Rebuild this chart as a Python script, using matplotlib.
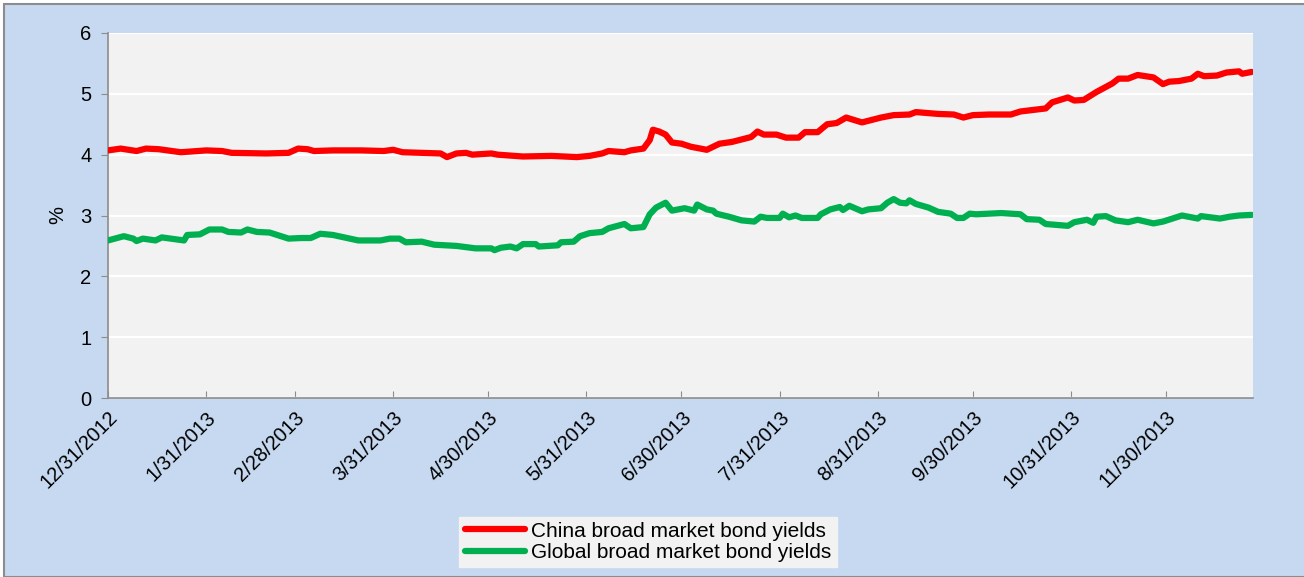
import matplotlib
matplotlib.use("Agg")
import matplotlib.pyplot as plt
from matplotlib.patches import Rectangle
import pandas as pd

plt.rcParams['font.family'] = ['Liberation Sans', 'DejaVu Sans']

china_dates = ["2012-12-31", "2013-01-04", "2013-01-09", "2013-01-12", "2013-01-16", "2013-01-23",
               "2013-01-31", "2013-02-05", "2013-02-08", "2013-02-19", "2013-02-26", "2013-03-01",
               "2013-03-04", "2013-03-06", "2013-03-12", "2013-03-21", "2013-03-28", "2013-03-31",
               "2013-04-03", "2013-04-15", "2013-04-17", "2013-04-20", "2013-04-23", "2013-04-25",
               "2013-05-01", "2013-05-03", "2013-05-11", "2013-05-20", "2013-05-28", "2013-06-01",
               "2013-06-05", "2013-06-07", "2013-06-12", "2013-06-14", "2013-06-18", "2013-06-20",
               "2013-06-21", "2013-06-23", "2013-06-25", "2013-06-27", "2013-06-30", "2013-07-03",
               "2013-07-08", "2013-07-12", "2013-07-16", "2013-07-22", "2013-07-24", "2013-07-26",
               "2013-07-30", "2013-08-02", "2013-08-06", "2013-08-08", "2013-08-12", "2013-08-15",
               "2013-08-18", "2013-08-21", "2013-08-26", "2013-09-01", "2013-09-05", "2013-09-10",
               "2013-09-12", "2013-09-19", "2013-09-24", "2013-09-27", "2013-09-30", "2013-10-05",
               "2013-10-12", "2013-10-15", "2013-10-23", "2013-10-25", "2013-10-30", "2013-11-01",
               "2013-11-04", "2013-11-08", "2013-11-13", "2013-11-15", "2013-11-18", "2013-11-21",
               "2013-11-26", "2013-11-29", "2013-12-01", "2013-12-04", "2013-12-08", "2013-12-10",
               "2013-12-12", "2013-12-16", "2013-12-19", "2013-12-23", "2013-12-24", "2013-12-27"]
china_yields = [4.07, 4.10, 4.06, 4.10, 4.09, 4.04,
                4.07, 4.06, 4.03, 4.02, 4.03, 4.10,
                4.09, 4.06, 4.07, 4.07, 4.06, 4.08,
                4.04, 4.02, 3.96, 4.02, 4.03, 4.00,
                4.02, 4.00, 3.97, 3.98, 3.96, 3.98,
                4.02, 4.06, 4.04, 4.07, 4.10, 4.24,
                4.41, 4.38, 4.33, 4.20, 4.18, 4.13,
                4.08, 4.18, 4.21, 4.29, 4.38, 4.33,
                4.33, 4.28, 4.28, 4.37, 4.37, 4.50,
                4.52, 4.61, 4.53, 4.61, 4.65, 4.66,
                4.70, 4.67, 4.66, 4.61, 4.65, 4.66,
                4.66, 4.71, 4.76, 4.86, 4.94, 4.89,
                4.90, 5.03, 5.17, 5.25, 5.25, 5.31,
                5.27, 5.16, 5.20, 5.21, 5.25, 5.33,
                5.29, 5.30, 5.35, 5.37, 5.33, 5.36]

global_dates = ["2012-12-31", "2013-01-05", "2013-01-08", "2013-01-09", "2013-01-11", "2013-01-15",
                "2013-01-17", "2013-01-24", "2013-01-25", "2013-01-29", "2013-02-01", "2013-02-05",
                "2013-02-07", "2013-02-11", "2013-02-13", "2013-02-16", "2013-02-20", "2013-02-26",
                "2013-03-02", "2013-03-05", "2013-03-08", "2013-03-12", "2013-03-20", "2013-03-27",
                "2013-03-30", "2013-04-02", "2013-04-04", "2013-04-09", "2013-04-13", "2013-04-20",
                "2013-04-26", "2013-05-01", "2013-05-02", "2013-05-04", "2013-05-07", "2013-05-09",
                "2013-05-11", "2013-05-15", "2013-05-16", "2013-05-22", "2013-05-23", "2013-05-27",
                "2013-05-29", "2013-06-01", "2013-06-05", "2013-06-07", "2013-06-12", "2013-06-14",
                "2013-06-18", "2013-06-20", "2013-06-22", "2013-06-25", "2013-06-27", "2013-07-01",
                "2013-07-04", "2013-07-05", "2013-07-08", "2013-07-10", "2013-07-11", "2013-07-15",
                "2013-07-19", "2013-07-23", "2013-07-25", "2013-07-27", "2013-07-31", "2013-08-01",
                "2013-08-03", "2013-08-05", "2013-08-07", "2013-08-12", "2013-08-13", "2013-08-16",
                "2013-08-19", "2013-08-20", "2013-08-22", "2013-08-26", "2013-08-28", "2013-09-01",
                "2013-09-03", "2013-09-05", "2013-09-07", "2013-09-09", "2013-09-10", "2013-09-12",
                "2013-09-16", "2013-09-19", "2013-09-23", "2013-09-25", "2013-09-27", "2013-09-29",
                "2013-10-01", "2013-10-09", "2013-10-15", "2013-10-17", "2013-10-21", "2013-10-23",
                "2013-10-30", "2013-11-01", "2013-11-05", "2013-11-07", "2013-11-08", "2013-11-11",
                "2013-11-14", "2013-11-18", "2013-11-21", "2013-11-26", "2013-11-29", "2013-12-02",
                "2013-12-05", "2013-12-10", "2013-12-11", "2013-12-17", "2013-12-20", "2013-12-23",
                "2013-12-27"]
global_yields = [2.59, 2.66, 2.62, 2.58, 2.62, 2.59,
                 2.64, 2.59, 2.68, 2.69, 2.77, 2.77,
                 2.73, 2.72, 2.77, 2.73, 2.72, 2.62,
                 2.63, 2.63, 2.70, 2.68, 2.59, 2.59,
                 2.62, 2.62, 2.56, 2.57, 2.52, 2.50,
                 2.46, 2.46, 2.43, 2.47, 2.49, 2.46,
                 2.53, 2.53, 2.49, 2.51, 2.56, 2.57,
                 2.66, 2.71, 2.73, 2.79, 2.86, 2.79,
                 2.81, 3.02, 3.13, 3.21, 3.08, 3.12,
                 3.08, 3.18, 3.10, 3.08, 3.03, 2.98,
                 2.92, 2.90, 2.98, 2.96, 2.96, 3.03,
                 2.97, 3.00, 2.96, 2.96, 3.02, 3.10,
                 3.14, 3.09, 3.16, 3.07, 3.10, 3.12,
                 3.21, 3.27, 3.21, 3.20, 3.25, 3.19,
                 3.13, 3.06, 3.03, 2.96, 2.96, 3.03,
                 3.02, 3.04, 3.02, 2.94, 2.93, 2.86,
                 2.83, 2.89, 2.93, 2.88, 2.98, 2.99,
                 2.92, 2.89, 2.93, 2.87, 2.90, 2.95,
                 3.00, 2.95, 2.99, 2.95, 2.98, 3.00,
                 3.01]

tick_dates = ["2012-12-31", "2013-01-31", "2013-02-28", "2013-03-31", "2013-04-30", "2013-05-31",
              "2013-06-30", "2013-07-31", "2013-08-31", "2013-09-30", "2013-10-31", "2013-11-30"]
tick_labels = ["12/31/2012", "1/31/2013", "2/28/2013", "3/31/2013", "4/30/2013", "5/31/2013",
               "6/30/2013", "7/31/2013", "8/31/2013", "9/30/2013", "10/31/2013", "11/30/2013"]
y_ticks = [0, 1, 2, 3, 4, 5, 6]
series_names = ["China broad market bond yields", "Global broad market bond yields"]

W, H = 1304, 577
FS = 14.5
fig = plt.figure(figsize=(W / 100, H / 100), dpi=100, facecolor="white")
fig.patches.append(Rectangle((4 / W, 0), 1.0, (H - 4) / H, transform=fig.transFigure,
                             facecolor="#C6D9F0", edgecolor="#8C8C8C", linewidth=1.5, zorder=-10))

ax = fig.add_axes([108 / W, (H - 398) / H, (1253 - 108) / W, (398 - 33) / H])
ax.set_facecolor("#F2F2F2")

cd = pd.to_datetime(china_dates)
gd = pd.to_datetime(global_dates)
ax.plot(cd, china_yields, color="#FF0000", lw=4.5, solid_capstyle="round",
        solid_joinstyle="round", label=series_names[0], zorder=3)
ax.plot(gd, global_yields, color="#00B050", lw=4.5, solid_capstyle="round",
        solid_joinstyle="round", label=series_names[1], zorder=3)

ax.set_ylim(0, 6)
ax.set_yticks(y_ticks)
ax.set_xlim(pd.Timestamp("2012-12-31"), pd.Timestamp("2013-12-27 10:00"))
ax.set_xticks(pd.to_datetime(tick_dates))
ax.set_xticklabels(tick_labels, rotation=45, ha="right", va="top", rotation_mode="anchor")

ax.grid(axis="y", color="white", lw=1.6, zorder=1)
ax.set_axisbelow(True)
for s in ["top", "right"]:
    ax.spines[s].set_visible(False)
for s in ["left", "bottom"]:
    ax.spines[s].set_color("#8C8C8C")
    ax.spines[s].set_linewidth(1.2)
ax.tick_params(axis="y", direction="out", length=5, color="#8C8C8C", labelsize=FS, pad=7)
ax.tick_params(axis="x", direction="in", length=5, color="#8C8C8C", labelsize=FS, pad=7)

ax.set_ylabel("%", fontsize=FS, labelpad=9)

leg = fig.legend(loc="lower center", bbox_to_anchor=(648 / W, 10 / H), ncol=1,
                 fontsize=15, frameon=True, fancybox=False, handlelength=2.9,
                 handletextpad=0.3, borderpad=0.25, labelspacing=0.1, borderaxespad=0)
leg.get_frame().set_facecolor("#F2F2F2")
leg.get_frame().set_edgecolor("#F2F2F2")
leg.get_frame().set_alpha(1)

fig.savefig("out.png", dpi=100, facecolor=fig.get_facecolor())
